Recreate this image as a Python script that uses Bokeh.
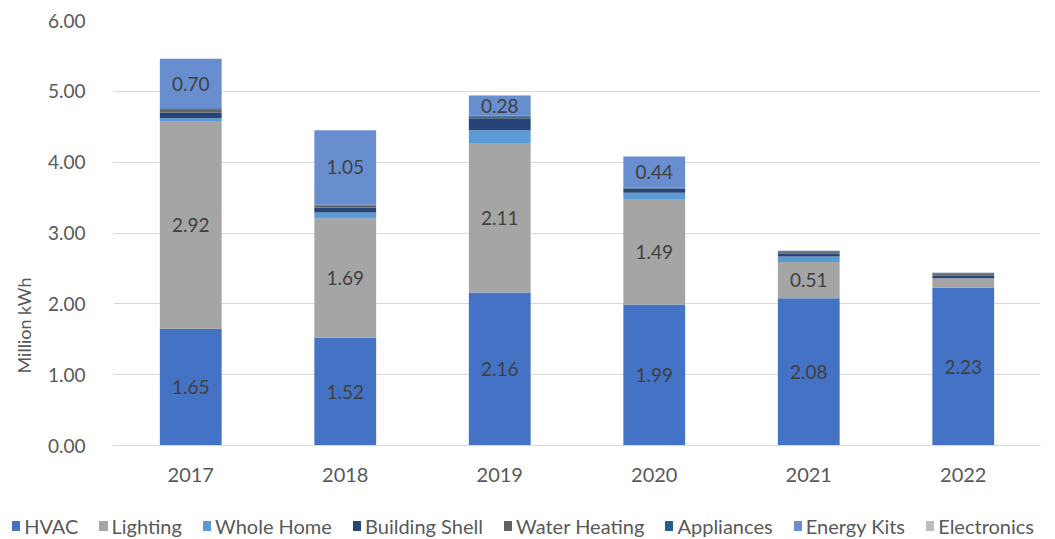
from bokeh.plotting import figure
from bokeh.layouts import column
from bokeh.models import (ColumnDataSource, FactorRange, Range1d, Div,
                          NumeralTickFormatter, SingleIntervalTicker, Title)
from bokeh.core.properties import value
from bokeh.embed import file_html
from bokeh.resources import INLINE

# Annual savings by end use (million kWh)
years = ["2017", "2018", "2019", "2020", "2021", "2022"]
hvac = [1.65, 1.52, 2.16, 1.99, 2.08, 2.23]
lighting = [2.92, 1.69, 2.11, 1.49, 0.51, 0.13]
whole_home = [0.05, 0.08, 0.18, 0.09, 0.08, 0.00]
building_shell = [0.08, 0.07, 0.17, 0.05, 0.04, 0.04]
water_heating = [0.04, 0.03, 0.02, 0.01, 0.03, 0.03]
appliances = [0.02, 0.01, 0.02, 0.01, 0.01, 0.01]
energy_kits = [0.70, 1.05, 0.28, 0.44, 0.00, 0.00]
electronics = [0.00, 0.00, 0.00, 0.00, 0.00, 0.00]

series_names = ["HVAC", "Lighting", "Whole Home", "Building Shell",
                "Water Heating", "Appliances", "Energy Kits", "Electronics"]
series_values = [hvac, lighting, whole_home, building_shell,
                 water_heating, appliances, energy_kits, electronics]
colors = ["#4472C4", "#A5A5A5", "#5B9BD5", "#264478",
          "#636363", "#255E91", "#698ED0", "#BDBDBD"]

FONT = "Lato"
TEXT_GREY = "#595959"

keys = [f"s{i}" for i in range(len(series_names))]
data = {"year": years}
for k, vals in zip(keys, series_values):
    data[k] = vals
source = ColumnDataSource(data)

p = figure(
    width=1055, height=499,
    x_range=FactorRange(*years, range_padding=0.0),
    y_range=Range1d(0, 6.0),
    output_backend="svg", toolbar_location=None,
    min_border_left=112, min_border_right=15,
    min_border_top=20, min_border_bottom=54,
)

renderers = p.vbar_stack(keys, x="year", width=0.4, color=colors,
                         line_color=None, source=source)

# Value labels centred in the larger segments
lab_x, lab_y, lab_t = [], [], []
label_series = {0: 0.0, 1: 0.3, 6: 0.01}
for i, yr in enumerate(years):
    base = 0.0
    for s, vals in enumerate(series_values):
        v = vals[i]
        if s in label_series and v > label_series[s]:
            lab_x.append(yr)
            lab_y.append(base + v / 2)
            lab_t.append(f"{v:.2f}")
        base += v
p.text(x=lab_x, y=lab_y, text=lab_t, text_align="center",
       text_baseline="middle", text_font=value(FONT),
       text_font_size="19px", text_color="#404040")

# Axes and grid
p.yaxis.ticker = SingleIntervalTicker(interval=1.0)
p.yaxis.formatter = NumeralTickFormatter(format="0.00")
p.yaxis.axis_line_color = None
p.yaxis.major_tick_line_color = None
p.yaxis.minor_tick_line_color = None
p.yaxis.major_label_standoff = 22
p.yaxis.major_label_text_font = FONT
p.yaxis.major_label_text_font_size = "19px"
p.yaxis.major_label_text_color = TEXT_GREY

p.xaxis.axis_line_color = "#D9D9D9"
p.xaxis.major_tick_line_color = None
p.xaxis.minor_tick_line_color = None
p.xaxis.major_label_standoff = 16
p.xaxis.major_label_text_font = FONT
p.xaxis.major_label_text_font_size = "20px"
p.xaxis.major_label_text_color = TEXT_GREY

p.xgrid.grid_line_color = None
p.ygrid.grid_line_color = "#D9D9D9"
p.ygrid.grid_line_width = 1
p.outline_line_color = None

# Vertical axis title, set below the middle of the axis
p.add_layout(Title(text="Million kWh", align="left", offset=72,
                   text_font=FONT, text_font_style="normal", text_font_size="18px",
                   text_color=TEXT_GREY, standoff=20), "left")

# Legend strip under the chart: colour swatch followed by series name
entries = []
for name, c in zip(series_names, colors):
    entries.append(
        f'<span style="display:inline-block;width:10px;height:10px;background:{c};'
        f'margin-right:4px;"></span>'
        f'<span style="margin-right:21px;">{name}</span>'
    )
legend_html = (
    '<div style="width:1055px;height:40px;display:flex;align-items:center;'
    'justify-content:center;white-space:nowrap;font-family:Lato;font-size:20px;'
    f'color:{TEXT_GREY};line-height:20px;padding-top:14px;padding-left:12px;'
    'box-sizing:border-box;">'
    + "".join(entries) + "</div>"
)
legend_div = Div(text=legend_html, width=1055, height=40, margin=(0, 0, 0, 0))

layout = column(p, legend_div, spacing=0)
open("out.html", "w").write(file_html(layout, INLINE))
